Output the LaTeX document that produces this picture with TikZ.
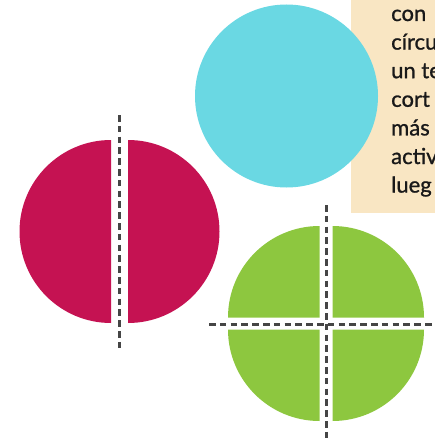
\documentclass[tikz,border=0pt]{standalone}
\usepackage{fontspec}
\setmainfont{Lato}
\newfontfamily\panelfont{Lato}[FakeBold=1]
\definecolor{beige}{HTML}{F9E6C3}
\definecolor{sky}{HTML}{6AD8E3}
\definecolor{berry}{HTML}{C51252}
\definecolor{lime}{HTML}{8DC73F}
\definecolor{cutline}{HTML}{454545}
\tikzset{
  cut/.style = {draw=cutline, line width=3pt, dash pattern=on 6.5pt off 4.3pt},
  lbl/.style = {anchor=base west, inner sep=0pt, text=black!90,
                font=\panelfont\fontsize{22}{25}\selectfont}
}
\begin{document}
\begin{tikzpicture}[x=1pt, y=-1pt]
\useasboundingbox (0,0) rectangle (435,441);
\clip (0,0) rectangle (435,441);
% text panel
\fill[beige] (351,0) rectangle (440,213);
\foreach \word [count=\i from 0] in {con, círcu, un te, cort, más, activ, lueg}
  \node[lbl] (w\i) at (391,21+28.6*\i) {\word};
% whole circle
\fill[sky] (286.5,96) circle[radius=91.5];
% halves
\fill[berry] (111,140) arc[start angle=270, end angle=90, radius=91.5] -- cycle;
\fill[berry] (128,140) arc[start angle=-90, end angle=90, radius=91.5] -- cycle;
\coordinate (halfT) at (119.5,115);
\coordinate (halfB) at (119.5,352);
\draw[cut] (halfT) -- (halfB);
% quarters
\fill[lime] (319.5,317.5) -- (228,317.5) arc[start angle=180, end angle=270, radius=91.5] -- cycle;
\fill[lime] (332.5,317.5) -- (332.5,226) arc[start angle=270, end angle=360, radius=91.5] -- cycle;
\fill[lime] (332.5,329.5) -- (424,329.5) arc[start angle=0, end angle=90, radius=91.5] -- cycle;
\fill[lime] (319.5,329.5) -- (319.5,421) arc[start angle=90, end angle=180, radius=91.5] -- cycle;
\coordinate (quarterL) at (209,324);
\coordinate (quarterR) at (436,324);
\coordinate (quarterT) at (326,205);
\coordinate (quarterB) at (326,442);
\draw[cut] (quarterL) -- (quarterR);
\draw[cut] (quarterT) -- (quarterB);
\end{tikzpicture}
\end{document}
